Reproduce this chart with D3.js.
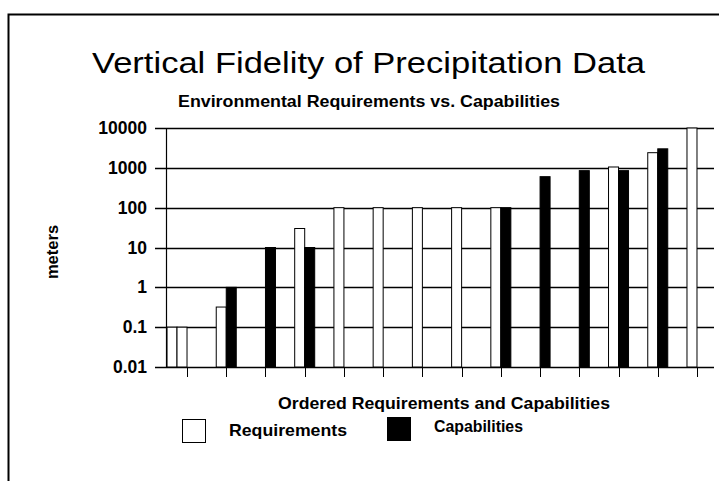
<!DOCTYPE html>
<html>
<head>
<meta charset="utf-8">
<script src="https://cdn.jsdelivr.net/npm/d3@7"></script>
<style>
  body { margin: 0; background: #fff; }
  text { font-family: Arial, "Liberation Sans", sans-serif; fill: #000; }
</style>
</head>
<body>
<div id="chart"></div>
<script>
// Vertical fidelity chart, log scale in meters

var categories = ["1","2","3","4","5","6","7","8","9","10","11","12","13","14"];
// extra white bar that sits at the far left of the first group
var leadReq = [0.1, null, null, null, null, null, null, null, null, null, null, null, null, null];
var requirements = [0.1, 0.32, null, 30, 100, 100, 100, 100, 100, null, null, 1050, 2400, 10000];
var capabilities = [null, 1, 10, 10, null, null, null, null, 100, 600, 850, 850, 3000, null];
var yTicks = [0.01, 0.1, 1, 10, 100, 1000, 10000];
var yTickLabels = ["0.01", "0.1", "1", "10", "100", "1000", "10000"];

var w = 719;
var h = 481;

var svg = d3.select("#chart").append("svg")
  .attr("width", w)
  .attr("height", h);

// frame of the slide
svg.append("path")
  .attr("d", "M8.5,490 V14.5 H730")
  .attr("fill", "none")
  .attr("stroke", "#000")
  .attr("stroke-width", 2);

var plotLeft = 166, plotRight = 716, plotTop = 128, plotBottom = 367;

var x = d3.scaleBand()
  .domain(categories)
  .range([plotLeft + 1.4, plotRight + 0.6])
  .padding(0);

var barW = x.bandwidth() * 0.255;

var sub = d3.scaleBand()
  .domain(["lead", "req", "cap"])
  .range([-2 * barW, barW]);

var y = d3.scaleLog()
  .domain([0.01, 10000])
  .range([plotBottom, plotTop]);

// gridlines
svg.append("g")
  .selectAll("line")
  .data(yTicks)
  .enter()
  .append("line")
  .attr("x1", plotLeft - 11)
  .attr("x2", plotRight - 2)
  .attr("y1", function(d) { return Math.round(y(d)) + 0.5; })
  .attr("y2", function(d) { return Math.round(y(d)) + 0.5; })
  .attr("stroke", "#000")
  .attr("stroke-width", 1.4);

// bars
function barData(vals, key) {
  return vals.map(function(v, i) { return { cat: categories[i], v: v, key: key }; })
    .filter(function(d) { return d.v != null; });
}
var allBars = barData(leadReq, "lead")
  .concat(barData(requirements, "req"))
  .concat(barData(capabilities, "cap"));

svg.append("g")
  .selectAll("rect")
  .data(allBars)
  .enter()
  .append("rect")
  .attr("x", function(d) { return x(d.cat) + x.bandwidth() / 2 + sub(d.key); })
  .attr("y", function(d) { return y(d.v); })
  .attr("width", sub.bandwidth())
  .attr("height", function(d) { return plotBottom - y(d.v); })
  .attr("fill", function(d) { return d.key == "cap" ? "#000" : "#fff"; })
  .attr("stroke", "#000")
  .attr("stroke-width", 1);

// left axis line
svg.append("line")
  .attr("x1", plotLeft + 0.5).attr("x2", plotLeft + 0.5)
  .attr("y1", plotTop).attr("y2", plotBottom + 1)
  .attr("stroke", "#000").attr("stroke-width", 1.2);

// category ticks under baseline
svg.append("g")
  .selectAll("line")
  .data(categories)
  .enter()
  .append("line")
  .attr("x1", function(d) { return Math.round(x(d) + x.bandwidth() / 2) + 0.5; })
  .attr("x2", function(d) { return Math.round(x(d) + x.bandwidth() / 2) + 0.5; })
  .attr("y1", plotBottom)
  .attr("y2", plotBottom + 10)
  .attr("stroke", "#000")
  .attr("stroke-width", 1);

// y tick labels
svg.append("g")
  .selectAll("text")
  .data(yTicks)
  .enter()
  .append("text")
  .attr("x", 147)
  .attr("y", function(d) { return y(d) + 6; })
  .attr("text-anchor", "end")
  .style("font-size", "17.5px")
  .style("font-weight", "bold")
  .text(function(d, i) { return yTickLabels[i]; });

// titles
svg.append("text")
  .attr("x", 92).attr("y", 73)
  .attr("textLength", 553).attr("lengthAdjust", "spacingAndGlyphs")
  .style("font-size", "30px")
  .text("Vertical Fidelity of Precipitation Data");

svg.append("text")
  .attr("x", 178).attr("y", 107)
  .attr("textLength", 382).attr("lengthAdjust", "spacingAndGlyphs")
  .style("font-size", "16.5px").style("font-weight", "bold")
  .text("Environmental Requirements vs. Capabilities");

svg.append("text")
  .attr("x", 278).attr("y", 409)
  .attr("textLength", 332).attr("lengthAdjust", "spacingAndGlyphs")
  .style("font-size", "16.5px").style("font-weight", "bold")
  .text("Ordered Requirements and Capabilities");

svg.append("text")
  .attr("transform", "translate(58,252) rotate(-90)")
  .attr("text-anchor", "middle")
  .style("font-size", "16.5px").style("font-weight", "bold")
  .text("meters");

// legend
var legend = [
  { label: "Requirements", fill: "#fff", bx: 182, by: 419, tx: 229, ty: 436, tl: 118 },
  { label: "Capabilities", fill: "#000", bx: 387, by: 417, tx: 434, ty: 432, tl: 89 }
];
var lg = svg.append("g").selectAll("g").data(legend).enter().append("g");
lg.append("rect")
  .attr("x", function(d) { return d.bx + 0.5; })
  .attr("y", function(d) { return d.by + 0.5; })
  .attr("width", 23).attr("height", 23)
  .attr("fill", function(d) { return d.fill; })
  .attr("stroke", "#000").attr("stroke-width", 1);
lg.append("text")
  .attr("x", function(d) { return d.tx; })
  .attr("y", function(d) { return d.ty; })
  .attr("textLength", function(d) { return d.tl; })
  .attr("lengthAdjust", "spacingAndGlyphs")
  .style("font-size", "16.5px").style("font-weight", "bold")
  .text(function(d) { return d.label; });
</script>
</body>
</html>
